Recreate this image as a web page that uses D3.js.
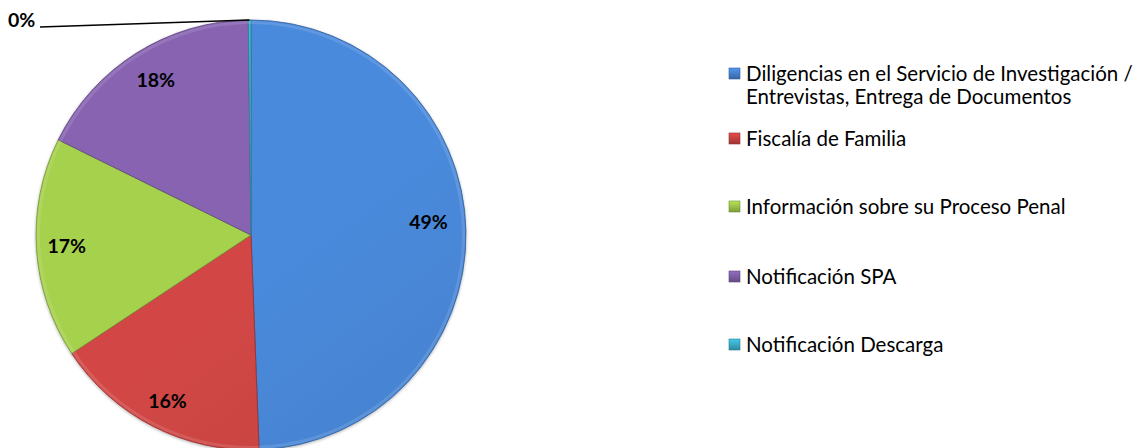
<!DOCTYPE html>
<html><head><meta charset="utf-8">
<script src="https://cdn.jsdelivr.net/npm/d3@7/dist/d3.min.js"></script>
<style>html,body{margin:0;padding:0;background:#fff;overflow:hidden}</style>
</head><body>
<svg id="c" width="1142" height="448"></svg>
<script>
const categories = [
  "Diligencias en el Servicio de Investigación / Entrevistas, Entrega de Documentos",
  "Fiscalía de Familia",
  "Información sobre su Proceso Penal",
  "Notificación SPA",
  "Notificación Descarga"
];
const values = [49.4, 16.3, 16.6, 17.5, 0.2];
const labels = ["49%", "16%", "17%", "18%", "0%"];
const legendLines = [
  ["Diligencias en el Servicio de Investigación /", "Entrevistas, Entrega de Documentos"],
  ["Fiscalía de Familia"],
  ["Información sobre su Proceso Penal"],
  ["Notificación SPA"],
  ["Notificación Descarga"]
];
const colors = ["#4784d3", "#c94442", "#9fc84a", "#8160aa", "#3cb0cc"];

const svg = d3.select("#c");
const defs = svg.append("defs");
const cx = 251, cy = 235, R = 215;
colors.forEach((c, i) => {
  const g = defs.append("linearGradient").attr("id", "g" + i)
    .attr("gradientUnits", "userSpaceOnUse").attr("x1", cx - R).attr("y1", cy - R).attr("x2", cx + R * 0.5).attr("y2", cy + R);
  g.append("stop").attr("offset", "0%").attr("stop-color", d3.color(c).brighter(0.12));
  g.append("stop").attr("offset", "100%").attr("stop-color", d3.color(c).darker(0.3));
  const lg = defs.append("linearGradient").attr("id", "l" + i).attr("x1", 0).attr("y1", 0).attr("x2", 0).attr("y2", 1);
  lg.append("stop").attr("offset", "0%").attr("stop-color", d3.color(c).brighter(0.4));
  lg.append("stop").attr("offset", "100%").attr("stop-color", d3.color(c).darker(0.7));
});
const f = defs.append("filter").attr("id", "sh").attr("x", "-10%").attr("y", "-10%").attr("width", "120%").attr("height", "120%");
f.append("feDropShadow").attr("dx", 0).attr("dy", 1).attr("stdDeviation", 1.5).attr("flood-color", "#000").attr("flood-opacity", 0.3);

const pie = d3.pie().sort(null).value(d => d);
const arcs = pie(values);
const arc = d3.arc().innerRadius(0).outerRadius(R);
const g = svg.append("g").attr("transform", `translate(${cx},${cy})`);
g.append("g").attr("filter", "url(#sh)").selectAll("path").data(arcs).enter().append("path")
  .attr("d", arc).attr("fill", (d, i) => `url(#g${i})`)
  .attr("stroke", (d, i) => d3.color(colors[i]).darker(0.9)).attr("stroke-width", 0.8);
g.append("g").selectAll("path").data(arcs).enter().append("path")
  .attr("d", d3.arc().innerRadius(R - 4).outerRadius(R - 1))
  .attr("fill", "#fff").attr("opacity", 0.12);

const labelArc = d3.arc().innerRadius(R * 0.84).outerRadius(R * 0.84);
const labelShift = [[-3, -10], [-1, 5], [-4, 0], [1, -2], [0, 0]];
const lf = "Lato, 'Open Sans', sans-serif";
arcs.forEach((d, i) => {
  if (values[i] < 1) return;
  const [x, y] = labelArc.centroid(d);
  g.append("text").attr("x", x + labelShift[i][0]).attr("y", y + labelShift[i][1]).attr("dy", "0.36em")
    .attr("text-anchor", "middle").attr("font-family", lf).attr("font-weight", "bold")
    .attr("font-size", 19.5).attr("fill", "#000").text(labels[i]);
});
const small = arcs[4];
const a0 = (small.startAngle + small.endAngle) / 2;
const ex = cx + Math.sin(a0) * R, ey = cy - Math.cos(a0) * R;
svg.append("line").attr("x1", 40).attr("y1", 27).attr("x2", ex).attr("y2", ey)
  .attr("stroke", "#000").attr("stroke-width", 1.3);
svg.append("text").attr("x", 8).attr("y", 27).attr("font-family", lf).attr("font-weight", "bold")
  .attr("font-size", 19.5).attr("fill", "#000").text(labels[4]);

const rowY = [74, 139, 207, 277, 345];
const leg = svg.append("g");
legendLines.forEach((lines, i) => {
  leg.append("rect").attr("x", 729).attr("y", rowY[i] - 6).attr("width", 11).attr("height", 11)
    .attr("fill", `url(#l${i})`).attr("stroke", d3.color(colors[i]).darker(1)).attr("stroke-width", 0.6);
  lines.forEach((t, j) => {
    leg.append("text").attr("x", 746).attr("y", rowY[i] + j * 23).attr("dy", "0.35em")
      .attr("font-family", lf).attr("font-size", 20.5).attr("fill", "#000").text(t);
  });
});
</script>
</body></html>
